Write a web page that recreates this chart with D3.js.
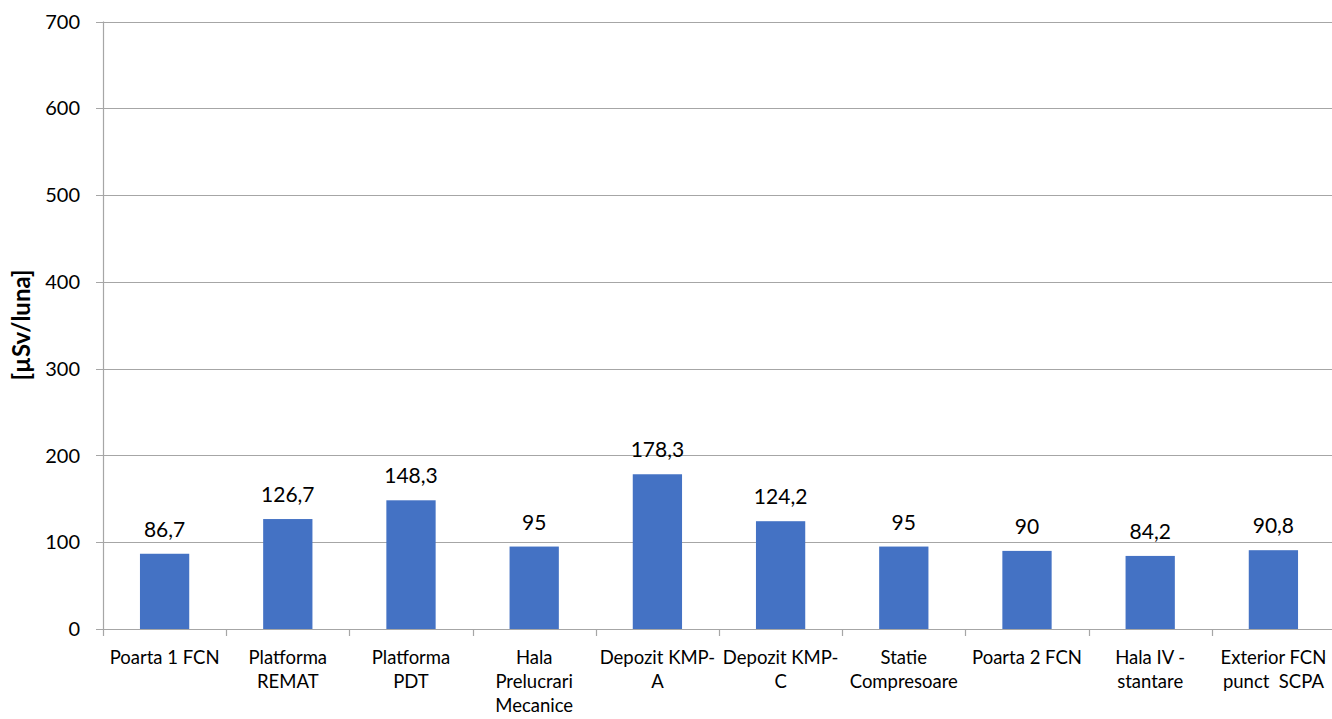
<!DOCTYPE html>
<html><head><meta charset="utf-8">
<script src="https://cdn.jsdelivr.net/npm/d3@7"></script>
<style>body{margin:0;background:#fff}svg{display:block}text{font-family:Lato,"Open Sans",sans-serif;fill:#000}</style>
</head><body><svg id="c" width="1332" height="719"></svg>
<script>
const categories = [
  ["Poarta 1 FCN"],
  ["Platforma","REMAT"],
  ["Platforma","PDT"],
  ["Hala","Prelucrari","Mecanice"],
  ["Depozit KMP-","A"],
  ["Depozit KMP-","C"],
  ["Statie","Compresoare"],
  ["Poarta 2 FCN"],
  ["Hala IV -","stantare"],
  ["Exterior FCN","punct\u00a0\u00a0SCPA"]
];
const values = [86.7, 126.7, 148.3, 95, 178.3, 124.2, 95, 90, 84.2, 90.8];
const valueLabels = ["86,7","126,7","148,3","95","178,3","124,2","95","90","84,2","90,8"];
const yTicks = [0,100,200,300,400,500,600,700];
const yTitle = "[\u00b5Sv/luna]";

const svg = d3.select("#c");
const m = {left:103, right:1335, top:21.5, bottom:629};
const ids = d3.range(categories.length);
const x = d3.scaleBand().domain(ids).range([m.left, m.right]).paddingInner(0.6).paddingOuter(0.3);
const xb = d3.scaleBand().domain(ids).range([m.left, m.right]);
const y = d3.scaleLinear().domain([0,700]).range([m.bottom, m.top]);

// gridlines
svg.append("g").selectAll("line").data(yTicks).join("line")
  .attr("x1", m.left-7).attr("x2", m.right)
  .attr("y1", d=>Math.round(y(d))+0.5).attr("y2", d=>Math.round(y(d))+0.5)
  .attr("stroke","#a6a6a6").attr("stroke-width",1.2);
// y axis line
svg.append("line").attr("x1",m.left+0.5).attr("x2",m.left+0.5).attr("y1",m.top).attr("y2",m.bottom)
  .attr("stroke","#a6a6a6").attr("stroke-width",1.2);
// x ticks
svg.append("g").selectAll("line").data(d3.range(categories.length+1)).join("line")
  .attr("x1", i=>Math.round(m.left + i*xb.step())+0.5).attr("x2", i=>Math.round(m.left + i*xb.step())+0.5)
  .attr("y1", m.bottom).attr("y2", m.bottom+7)
  .attr("stroke","#a6a6a6").attr("stroke-width",1.2);

// y labels
svg.append("g").selectAll("text").data(yTicks).join("text")
  .attr("x", 80).attr("y", d=>y(d)).attr("dy","0.36em").attr("text-anchor","end")
  .style("font-size","20px").text(d=>d);

// bars
svg.append("g").selectAll("rect").data(values).join("rect")
  .attr("x",(d,i)=>x(i)).attr("width",x.bandwidth())
  .attr("y",d=>y(d)).attr("height",d=>y(0)-y(d)).attr("fill","#4472c4");

// value labels
svg.append("g").selectAll("text").data(values).join("text")
  .attr("x",(d,i)=>x(i)+x.bandwidth()/2).attr("y",d=>y(d)-17)
  .attr("text-anchor","middle").style("font-size","21px").text((d,i)=>valueLabels[i]);

// category labels
const cg = svg.append("g").selectAll("text").data(categories).join("text")
  .attr("x",(d,i)=>xb(i)+xb.bandwidth()/2).attr("y",664)
  .attr("text-anchor","middle").style("font-size","18.5px");
cg.selectAll("tspan").data(d=>d).join("tspan")
  .attr("x",function(){return this.parentNode.getAttribute("x");})
  .attr("dy",(d,j)=>j===0?0:24).text(d=>d);

// y title
svg.append("text").attr("transform","translate(30,325) rotate(-90)")
  .attr("text-anchor","middle").style("font-size","24px").style("font-weight","bold").text(yTitle);
</script></body></html>
